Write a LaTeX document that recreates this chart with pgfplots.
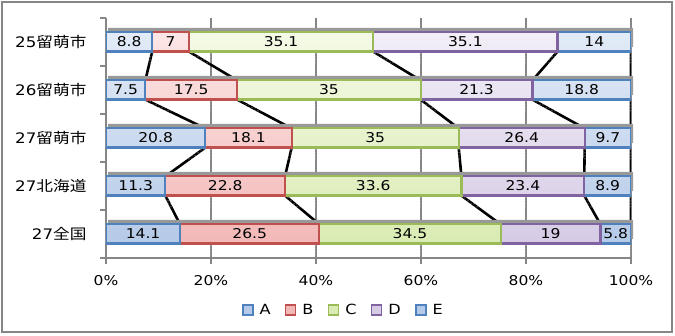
\documentclass[border=0pt]{standalone}
\usepackage{pgfplots}
\pgfplotsset{compat=1.18}
\usepackage{pgfplotstable}
\usepackage{fontspec}
\setmainfont{DejaVu Sans}[FakeStretch=1.15]
\newfontfamily\jp{Noto Sans CJK JP}[FakeStretch=1.15]
\usetikzlibrary{patterns}

\definecolor{gridgray}{HTML}{868686}
\definecolor{bA}{HTML}{4F81BD}\definecolor{fAb}{HTML}{B5CAE8}\definecolor{fAt}{HTML}{E2EBF7}
\definecolor{bB}{HTML}{C0504D}\definecolor{fBb}{HTML}{F2B8B7}\definecolor{fBt}{HTML}{FCE6E6}
\definecolor{bC}{HTML}{9BBB59}\definecolor{fCb}{HTML}{DAEBB3}\definecolor{fCt}{HTML}{F4FAE6}
\definecolor{bD}{HTML}{8064A2}\definecolor{fDb}{HTML}{D6CBE5}\definecolor{fDt}{HTML}{F2EEF7}

% shares per row (row 0 = top bar)
\pgfplotstableread{
row A    B    C    D    E
0   8.8  7    35.1 35.1 14
1   7.5  17.5 35   21.3 18.8
2   20.8 18.1 35   26.4 9.7
3   11.3 22.8 33.6 23.4 8.9
4   14.1 26.5 34.5 19   5.8
}\shares

% normalise every row to 100 %, then cumulative boundaries and segment middles
\pgfplotstablecreatecol[create col/expr={\thisrow{A}+\thisrow{B}+\thisrow{C}+\thisrow{D}+\thisrow{E}}]{T}{\shares}
\pgfplotstablecreatecol[create col/expr={100*\thisrow{A}/\thisrow{T}}]{nA}{\shares}
\pgfplotstablecreatecol[create col/expr={100*\thisrow{B}/\thisrow{T}}]{nB}{\shares}
\pgfplotstablecreatecol[create col/expr={100*\thisrow{C}/\thisrow{T}}]{nC}{\shares}
\pgfplotstablecreatecol[create col/expr={100*\thisrow{D}/\thisrow{T}}]{nD}{\shares}
\pgfplotstablecreatecol[create col/expr={100*\thisrow{E}/\thisrow{T}}]{nE}{\shares}
\pgfplotstablecreatecol[create col/expr={\thisrow{nA}}]{cA}{\shares}
\pgfplotstablecreatecol[create col/expr={\thisrow{cA}+\thisrow{nB}}]{cB}{\shares}
\pgfplotstablecreatecol[create col/expr={\thisrow{cB}+\thisrow{nC}}]{cC}{\shares}
\pgfplotstablecreatecol[create col/expr={\thisrow{cC}+\thisrow{nD}}]{cD}{\shares}
\pgfplotstablecreatecol[create col/expr={\thisrow{cD}+\thisrow{nE}}]{cE}{\shares}
\pgfplotstablecreatecol[create col/expr={\thisrow{cA}-\thisrow{nA}/2}]{mA}{\shares}
\pgfplotstablecreatecol[create col/expr={\thisrow{cB}-\thisrow{nB}/2}]{mB}{\shares}
\pgfplotstablecreatecol[create col/expr={\thisrow{cC}-\thisrow{nC}/2}]{mC}{\shares}
\pgfplotstablecreatecol[create col/expr={\thisrow{cD}-\thisrow{nD}/2}]{mD}{\shares}
\pgfplotstablecreatecol[create col/expr={\thisrow{cE}-\thisrow{nE}/2}]{mE}{\shares}

\pgfplotsset{
  common/.style={
    at={(0,0)}, anchor=south west, scale only axis,
    width=525pt, height=240pt,
    xmin=0, xmax=100, ymin=-0.5, ymax=4.5, y dir=reverse,
  },
  seg/.style 2 args={draw=#1, line width=2.2pt, top color=#2t, bottom color=#2b},
  leg/.style 2 args={legend image code/.code={\draw[draw=#1, line width=1.8pt, fill=#2] (0pt,-5pt) rectangle (10pt,5pt);}},
  val/.style={draw=none, mark=none, forget plot, point meta=explicit symbolic,
    nodes near coords={\pgfplotspointmeta},
    every node near coord/.append style={anchor=center, text=black, inner sep=0pt,
      font=\fontsize{13.5}{16}\selectfont}},
}

\begin{document}
\begin{tikzpicture}
\useasboundingbox (-106pt,-78pt) rectangle (569pt,258pt);
\draw[gridgray, line width=2.8pt] (-104pt,-74pt) rectangle (566pt,256pt);

% frame, grid, ticks and legend
\begin{axis}[common,
  axis x line*=bottom, axis y line*=left,
  axis line style={gridgray, line width=2.8pt, -},
  xtick={0,20,...,100}, xmajorgrids,
  grid style={gridgray, line width=2.3pt},
  tick align=outside, major tick length=6pt,
  tick style={gridgray, line width=2.3pt},
  xticklabel={\pgfmathprintnumber[assume math mode=true]{\tick}\%},
  xticklabel style={font=\fontsize{13.5}{16}\selectfont, text=black, yshift=-8pt},
  ytick={-0.5,0.5,...,4.5}, yticklabels={},
  extra y ticks={0,1,2,3,4},
  extra y tick labels={25{\jp 留萌市},26{\jp 留萌市},27{\jp 留萌市},27{\jp 北海道},27{\jp 全国}},
  extra y tick style={major tick length=0pt, tick style={draw=none},
    yticklabel style={font=\fontsize{14.5}{17}\selectfont, text=black, xshift=-16pt}},
  legend style={draw=none, fill=none, at={(0.452,-0.217)}, anchor=center,
    legend columns=-1, font=\fontsize{14}{16}\selectfont,
    /tikz/every odd column/.append style={column sep=4pt},
    /tikz/every even column/.append style={column sep=12pt}},
]
\addlegendimage{leg={bA}{fAb}}\addlegendentry{A}
\addlegendimage{leg={bB}{fBb}}\addlegendentry{B}
\addlegendimage{leg={bC}{fCb}}\addlegendentry{C}
\addlegendimage{leg={bD}{fDb}}\addlegendentry{D}
\addlegendimage{leg={bA}{fAb}}\addlegendentry{E}
\end{axis}

% series lines joining the segment boundaries of neighbouring bars
\begin{axis}[common, hide axis]
\pgfplotsforeachungrouped \r in {0,1,2,3}{%
  \pgfmathtruncatemacro\rn{\r+1}%
  \pgfmathsetmacro\ya{\r+0.2}%
  \pgfmathsetmacro\yb{\rn-0.2}%
  \pgfplotsforeachungrouped \col in {cA,cB,cC,cD,cE}{%
    \pgfplotstablegetelem{\r}{\col}\of\shares \let\xa\pgfplotsretval
    \pgfplotstablegetelem{\rn}{\col}\of\shares \let\xb\pgfplotsretval
    \edef\connline{\noexpand\addplot[draw=black, line width=2.6pt, mark=none, forget plot] coordinates {(\xa,\ya) (\xb,\yb)};}%
    \connline
  }%
}
\end{axis}

% dotted shadow behind each whole bar
\begin{axis}[common, hide axis, xbar, bar width=0.4, at={(2.2pt,-4pt)}]
\addplot[draw=none, fill=black!40] table[x=cE, y=row] {\shares};
\addplot[draw=none, pattern=dots, pattern color=white] table[x=cE, y=row] {\shares};
\end{axis}

% the stacked bars
\begin{axis}[common, hide axis, xbar stacked, bar width=0.4]
\addplot[seg={bA}{fA}] table[x=nA, y=row] {\shares};
\addplot[seg={bB}{fB}] table[x=nB, y=row] {\shares};
\addplot[seg={bC}{fC}] table[x=nC, y=row] {\shares};
\addplot[seg={bD}{fD}] table[x=nD, y=row] {\shares};
\addplot[seg={bA}{fA}] table[x=nE, y=row] {\shares};
\end{axis}

% value labels in the middle of each segment
\begin{axis}[common, hide axis]
\addplot[val] table[x=mA, y=row, meta=A] {\shares};
\addplot[val] table[x=mB, y=row, meta=B] {\shares};
\addplot[val] table[x=mC, y=row, meta=C] {\shares};
\addplot[val] table[x=mD, y=row, meta=D] {\shares};
\addplot[val] table[x=mE, y=row, meta=E] {\shares};
\end{axis}
\end{tikzpicture}
\end{document}
